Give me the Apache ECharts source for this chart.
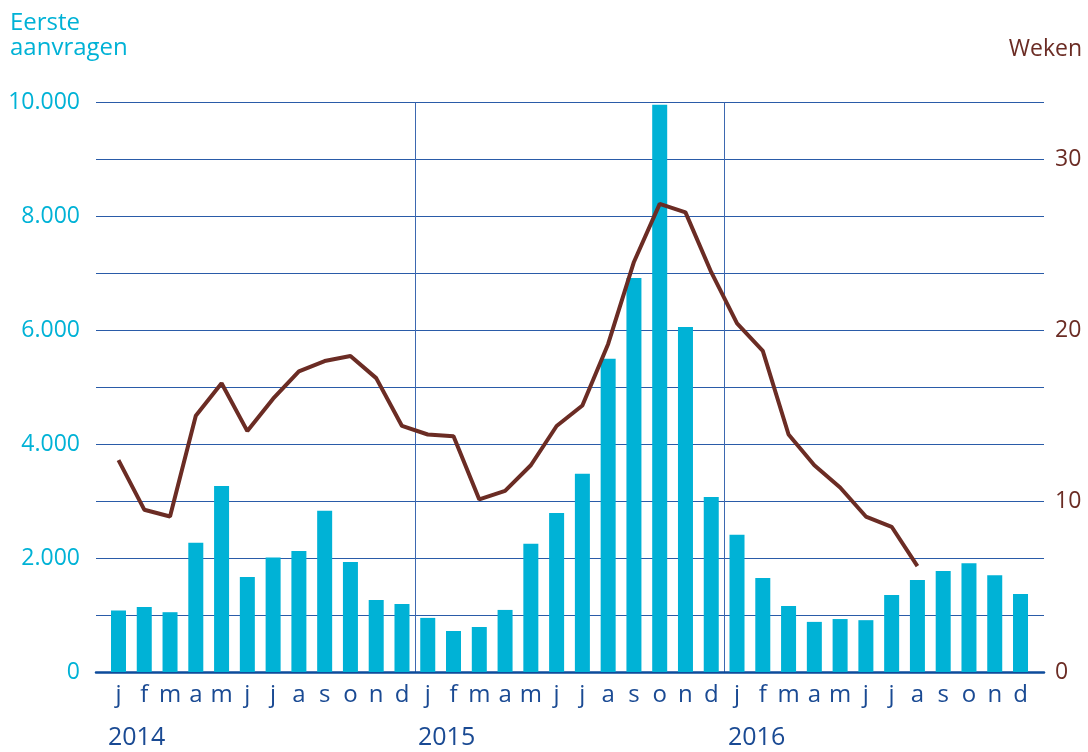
<!DOCTYPE html>
<html>
<head>
<meta charset="utf-8">
<script src="https://cdn.jsdelivr.net/npm/echarts@6/dist/echarts.min.js"></script>
<style>
  html, body { margin: 0; padding: 0; background: #ffffff; }
  #chart { width: 1088px; height: 752px; }
</style>
</head>
<body>
<div id="chart"></div>
<script>
// maanden en jaren
var years = ['2014', '2015', '2016']
var monthLetters = ['j', 'f', 'm', 'a', 'm', 'j', 'j', 'a', 's', 'o', 'n', 'd']

// eerste aanvragen per maand (linker as)
var aanvragen = [
  1080, 1140, 1050, 2270, 3265, 1670, 2010, 2125, 2830, 1930, 1265, 1195,
  950, 720, 790, 1090, 2250, 2790, 3480, 5500, 6920, 9960, 6060, 3075,
  2410, 1650, 1160, 880, 930, 910, 1350, 1615, 1775, 1910, 1700, 1370
]

// doorlooptijd in weken (rechter as)
var weken = [
  12.4, 9.5, 9.1, 15.0, 16.9, 14.1, 16.0, 17.6, 18.2, 18.5, 17.2, 14.4,
  13.9, 13.8, 10.1, 10.6, 12.1, 14.4, 15.6, 19.2, 24.0, 27.4, 26.9, 23.4,
  20.4, 18.8, 13.9, 12.1, 10.8, 9.1, 8.5, 6.2, null, null, null, null
]

var leftTicks = [0, 2000, 4000, 6000, 8000, 10000]
var rightTicks = [0, 10, 20, 30]

var categories = []
years.forEach(function () {
  monthLetters.forEach(function (m) { categories.push(m) })
})

var cyan = '#00b2d6'
var brown = '#6b2c24'
var navy = '#1a4a93'
var gridBlue = '#2a5ba8'
var sepBlue = '#3d68b0'
var font = '"Open Sans", "Noto Sans", sans-serif'

function dots(v) {
  return String(v).replace(/\B(?=(\d{3})+(?!\d))/g, '.')
}

var chart = echarts.init(document.getElementById('chart'))

var option = {
  animation: false,
  textStyle: { fontFamily: font },
  grid: [
    // kader met rasterlijnen
    { left: 96, right: 44, top: 102.5, bottom: 80 },
    // staven en lijn
    { left: 105.6, right: 54.6, top: 102.5, bottom: 80 }
  ],
  xAxis: [
    {
      gridIndex: 0,
      type: 'value',
      min: 0,
      max: 1,
      axisLine: { show: true, lineStyle: { color: '#0d4b9b', width: 2.5 } },
      axisTick: { show: false },
      axisLabel: { show: false },
      splitLine: { show: false }
    },
    {
      gridIndex: 1,
      type: 'category',
      data: categories,
      boundaryGap: true,
      axisLine: { show: false },
      axisTick: { show: false },
      axisLabel: {
        interval: 0,
        margin: 11,
        color: navy,
        fontSize: 24,
        fontFamily: font
      },
      // scheiding tussen de jaren (de laatste, aan de rand, onzichtbaar)
      splitLine: {
        show: true,
        interval: function (index) {
          return index === 12 || index === 24
        },
        lineStyle: { color: [sepBlue, sepBlue, 'rgba(0,0,0,0)'], width: 1 }
      }
    }
  ],
  yAxis: [
    {
      gridIndex: 0,
      type: 'value',
      min: 0,
      max: 10000,
      interval: 1000,
      axisLine: { show: false },
      axisTick: { show: false },
      axisLabel: {
        margin: 16,
        color: cyan,
        fontSize: 23,
        fontFamily: font,
        formatter: function (v) {
          return leftTicks.indexOf(v) >= 0 ? dots(v) : ''
        }
      },
      splitLine: { show: true, lineStyle: { color: gridBlue, width: 1 } }
    },
    {
      gridIndex: 0,
      type: 'value',
      position: 'right',
      min: 0,
      max: 100 / 3,
      interval: 10,
      axisLine: { show: false },
      axisTick: { show: false },
      axisLabel: {
        margin: 11,
        color: brown,
        fontSize: 23,
        fontFamily: font,
        showMaxLabel: false,
        formatter: function (v) {
          return rightTicks.indexOf(v) >= 0 ? String(v) : ''
        }
      },
      splitLine: { show: false }
    },
    {
      gridIndex: 1,
      type: 'value',
      min: 0,
      max: 10000,
      show: false
    },
    {
      gridIndex: 1,
      type: 'value',
      min: 0,
      max: 100 / 3,
      show: false
    }
  ],
  series: [
    {
      name: 'Eerste aanvragen',
      type: 'bar',
      xAxisIndex: 1,
      yAxisIndex: 2,
      barWidth: 15,
      itemStyle: { color: cyan },
      data: aanvragen
    },
    {
      name: 'Weken',
      type: 'line',
      xAxisIndex: 1,
      yAxisIndex: 3,
      symbol: 'none',
      connectNulls: false,
      lineStyle: { color: brown, width: 4 },
      data: weken
    }
  ],
  graphic: [
    {
      type: 'text',
      left: 10,
      top: 11,
      style: { text: 'Eerste', fill: cyan, font: '24px ' + font }
    },
    {
      type: 'text',
      left: 10,
      top: 36,
      style: { text: 'aanvragen', fill: cyan, font: '24px ' + font }
    },
    {
      type: 'text',
      right: 6,
      top: 38,
      style: { text: 'Weken', fill: brown, font: '23px ' + font }
    },
    {
      type: 'text',
      left: 108,
      top: 725,
      style: { text: years[0], fill: navy, font: '25px ' + font }
    },
    {
      type: 'text',
      left: 418,
      top: 725,
      style: { text: years[1], fill: navy, font: '25px ' + font }
    },
    {
      type: 'text',
      left: 728,
      top: 725,
      style: { text: years[2], fill: navy, font: '25px ' + font }
    }
  ]
}

chart.setOption(option)
</script>
</body>
</html>
